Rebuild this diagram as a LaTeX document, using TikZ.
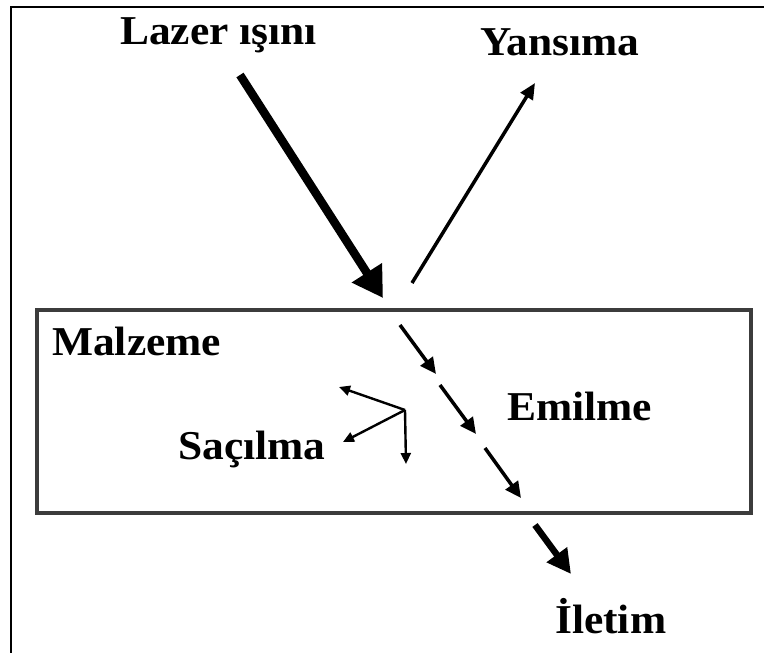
\documentclass[tikz,border=0pt]{standalone}
\usepackage{fontspec}
\setmainfont{Liberation Serif}
\usetikzlibrary{arrows.meta}
\newcommand{\lbltext}[1]{\scalebox{1.06}[1]{\bfseries #1}}
\tikzset{
  lbl/.style={anchor=base west, inner sep=0pt, font=\fontsize{41}{45}\selectfont},
  frameline/.style={line width=2.8pt, black},
  boxline/.style={line width=3.2pt, draw={rgb,255:red,60;green,60;blue,60}},
  beam/.style={line width=8.5pt, -{Triangle[length=30pt,width=34pt]}},
  refl/.style={line width=3.5pt, -{Triangle[length=16pt,width=14pt]}},
  absorb/.style={line width=3.5pt, -{Triangle[length=16pt,width=15pt]}},
  trans/.style={line width=6.5pt, -{Triangle[length=24pt,width=24pt]}},
  scat/.style={line width=2.4pt, -{Triangle[length=11pt,width=10pt]}}
}
\begin{document}
\begin{tikzpicture}[x=1pt,y=-1pt]
\useasboundingbox (0,0) rectangle (764,653);
% frame
\coordinate (fTR) at (764,7);
\coordinate (fTL) at (11,7);
\coordinate (fBL) at (11,653);
\draw[frameline] (fTR) -- (fTL) -- (fBL);
% material box
\coordinate (bTL) at (37,310);
\coordinate (bBR) at (751,513);
\draw[boxline] (bTL) rectangle (bBR);
% labels
\node[lbl] (lazer) at (120,45) {\lbltext{Lazer ışını}};
\node[lbl] (yansima) at (480,55) {\lbltext{Yansıma}};
\node[lbl] (malzeme) at (52,355) {\lbltext{Malzeme}};
\node[lbl] (emilme) at (507,420) {\lbltext{Emilme}};
\node[lbl] (sacilma) at (178,459) {\lbltext{Saçılma}};
\node[lbl] (iletim) at (555,633) {\lbltext{İletim}};
% incident beam
\coordinate (in0) at (240,75);
\coordinate (in1) at (383,298);
\draw[beam] (in0) -- (in1);
% reflection
\coordinate (r0) at (412,283);
\coordinate (r1) at (535,83);
\draw[refl] (r0) -- (r1);
% absorption segments
\coordinate (a0) at (400,325);
\coordinate (a1) at (436,374);
\coordinate (a2) at (440,385);
\coordinate (a3) at (476,434);
\coordinate (a4) at (485,448);
\coordinate (a5) at (521,498);
\draw[absorb] (a0) -- (a1);
\draw[absorb] (a2) -- (a3);
\draw[absorb] (a4) -- (a5);
% transmission
\coordinate (t0) at (535,525);
\coordinate (t1) at (571,574);
\draw[trans] (t0) -- (t1);
% scattering
\coordinate (sc) at (405,410);
\coordinate (s1) at (339,387);
\coordinate (s2) at (343,442);
\coordinate (s3) at (406,464);
\draw[scat] (sc) -- (s1);
\draw[scat] (sc) -- (s2);
\draw[scat] (sc) -- (s3);
\end{tikzpicture}
\end{document}
